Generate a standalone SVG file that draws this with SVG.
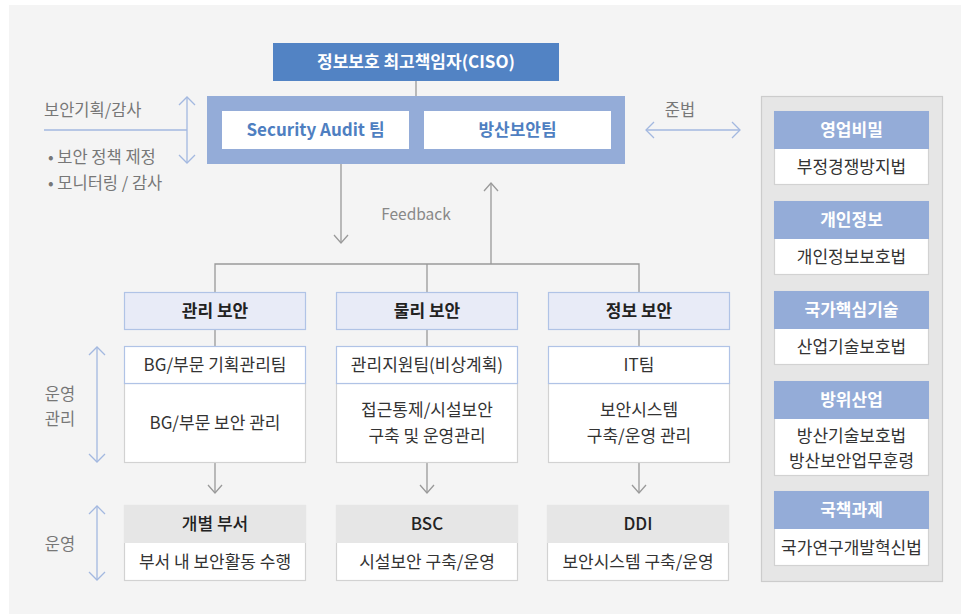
<svg xmlns="http://www.w3.org/2000/svg" width="970" height="614" viewBox="0 0 970 614">
<defs>
<style>
text{font-family:"Noto Sans CJK KR","Noto Sans",sans-serif;}
.bg{fill:#f4f4f4;}
.conn{stroke:#999;stroke-width:1.3;fill:none;}
.blue{stroke:#a3b8e0;stroke-width:1.3;fill:none;}
.cat{fill:#e8ebf7;stroke:#b0c3e6;stroke-width:1.2;}
.teamh{fill:#fff;stroke:#b0c3e6;stroke-width:1.2;}
.body{fill:#fff;stroke:#d2d2d2;stroke-width:1.2;}
.graysh{fill:#e6e6e6;}
.law-h{fill:#94acd8;}
.t-dark{fill:#333;font-size:17px;text-anchor:middle;}
.t-bold{fill:#222;font-size:17px;font-weight:bold;text-anchor:middle;}
.t-white{fill:#fff;font-size:17px;font-weight:bold;text-anchor:middle;}
.t-side{fill:#777;font-size:16.5px;}
</style>
</defs>
<rect class="bg" x="9" y="5" width="952" height="609"/>

<g id="connectors">
<line class="conn" x1="416" y1="81" x2="416" y2="96"/>
<line class="conn" x1="341" y1="164" x2="341" y2="243"/>
<polyline class="conn" points="334,235 341,243 348,235"/>
<line class="conn" x1="491" y1="264" x2="491" y2="183"/>
<polyline class="conn" points="484,191 491,183 498,191"/>
<polyline class="conn" points="215,292 215,264 639,264 639,292"/>
<line class="conn" x1="427" y1="264" x2="427" y2="292"/>
<line class="conn" x1="215" y1="330" x2="215" y2="346"/>
<line class="conn" x1="427" y1="330" x2="427" y2="346"/>
<line class="conn" x1="639" y1="330" x2="639" y2="346"/>
<line class="conn" x1="215" y1="463" x2="215" y2="493"/>
<polyline class="conn" points="208,485 215,493 222,485"/>
<line class="conn" x1="427" y1="463" x2="427" y2="493"/>
<polyline class="conn" points="420,485 427,493 434,485"/>
<line class="conn" x1="639" y1="463" x2="639" y2="493"/>
<polyline class="conn" points="632,485 639,493 646,485"/>
<!-- side arrows -->
<line class="blue" x1="44" y1="130" x2="187" y2="130"/>
<line class="blue" x1="187" y1="97" x2="187" y2="163"/>
<polyline class="blue" points="179,105 187,97 195,105"/>
<polyline class="blue" points="179,155 187,163 195,155"/>
<line class="blue" x1="646" y1="130" x2="740" y2="130"/>
<polyline class="blue" points="654,122 646,130 654,138"/>
<polyline class="blue" points="732,122 740,130 732,138"/>
<line class="blue" x1="97" y1="347" x2="97" y2="462"/>
<polyline class="blue" points="89,355 97,347 105,355"/>
<polyline class="blue" points="89,454 97,462 105,454"/>
<line class="blue" x1="97" y1="506" x2="97" y2="580"/>
<polyline class="blue" points="89,514 97,506 105,514"/>
<polyline class="blue" points="89,572 97,580 105,572"/>
</g>

<g id="side-labels">
<text class="t-side" x="44" y="116">보안기획/감사</text>
<text class="t-side" x="48" y="163">• 보안 정책 제정</text>
<text class="t-side" x="48" y="189">• 모니터링 / 감사</text>
<text class="t-side" x="680" y="116" text-anchor="middle">준법</text>
<text class="t-side" x="416" y="220" text-anchor="middle" style="fill:#888;font-size:15.5px">Feedback</text>
<text class="t-side" x="60" y="400" text-anchor="middle">운영</text>
<text class="t-side" x="60" y="425" text-anchor="middle">관리</text>
<text class="t-side" x="60" y="550" text-anchor="middle">운영</text>
</g>

<g id="ciso">
<rect x="273" y="43" width="286" height="38" fill="#5283c4"/>
<text class="t-white" x="416" y="68">정보보호 최고책임자(CISO)</text>
</g>

<g id="audit-group">
<rect x="207" y="96" width="418" height="68" fill="#94acd8"/>
<rect x="222" y="111" width="187" height="38" fill="#fff"/>
<text class="t-bold" x="315.5" y="136" style="fill:#4f7fc1">Security Audit 팀</text>
<rect x="424" y="111" width="187" height="38" fill="#fff"/>
<text class="t-bold" x="517.5" y="136" style="fill:#4f7fc1">방산보안팀</text>
</g>

<g id="cat-admin">
<rect class="cat" x="124.5" y="292.5" width="181" height="37"/>
<text class="t-bold" x="215" y="317">관리 보안</text>
</g>
<g id="cat-phys">
<rect class="cat" x="336.5" y="292.5" width="181" height="37"/>
<text class="t-bold" x="427" y="317">물리 보안</text>
</g>
<g id="cat-info">
<rect class="cat" x="548.5" y="292.5" width="181" height="37"/>
<text class="t-bold" x="639" y="317">정보 보안</text>
</g>

<g id="team-admin">
<rect class="body" x="124.5" y="383.5" width="181" height="79"/>
<rect class="teamh" x="124.5" y="346.5" width="181" height="37"/>
<text class="t-dark" x="215" y="371">BG/부문 기획관리팀</text>
<text class="t-dark" x="215" y="429">BG/부문 보안 관리</text>
</g>
<g id="team-phys">
<rect class="body" x="336.5" y="383.5" width="181" height="79"/>
<rect class="teamh" x="336.5" y="346.5" width="181" height="37"/>
<text class="t-dark" x="427" y="371">관리지원팀(비상계획)</text>
<text class="t-dark" x="427" y="416">접근통제/시설보안</text>
<text class="t-dark" x="427" y="442">구축 및 운영관리</text>
</g>
<g id="team-info">
<rect class="body" x="548.5" y="383.5" width="181" height="79"/>
<rect class="teamh" x="548.5" y="346.5" width="181" height="37"/>
<text class="t-dark" x="639" y="371">IT팀</text>
<text class="t-dark" x="639" y="416">보안시스템</text>
<text class="t-dark" x="639" y="442">구축/운영 관리</text>
</g>

<g id="op-dept">
<rect class="body" x="124.5" y="505.5" width="181" height="75"/>
<rect class="graysh" x="124" y="505" width="182" height="38"/>
<text class="t-dark" x="215" y="530" style="font-weight:500;fill:#222">개별 부서</text>
<text class="t-dark" x="215" y="568">부서 내 보안활동 수행</text>
</g>
<g id="op-bsc">
<rect class="body" x="336.5" y="505.5" width="181" height="75"/>
<rect class="graysh" x="336" y="505" width="182" height="38"/>
<text class="t-dark" x="427" y="530" style="font-weight:500;fill:#222">BSC</text>
<text class="t-dark" x="427" y="568">시설보안 구축/운영</text>
</g>
<g id="op-ddi">
<rect class="body" x="547.5" y="505.5" width="181" height="75"/>
<rect class="graysh" x="547" y="505" width="182" height="38"/>
<text class="t-dark" x="638" y="530" style="font-weight:500;fill:#222">DDI</text>
<text class="t-dark" x="638" y="568">보안시스템 구축/운영</text>
</g>

<g id="law-panel">
<rect x="761.5" y="96.5" width="181" height="485" fill="#e6e6e6" stroke="#cccccc" stroke-width="1.2"/>
</g>
<g id="law-trade">
<rect class="body" x="774.5" y="111.5" width="154" height="73"/>
<rect class="law-h" x="774" y="111" width="155" height="38"/>
<text class="t-white" x="851.5" y="136">영업비밀</text>
<text class="t-dark" x="851.5" y="173">부정경쟁방지법</text>
</g>
<g id="law-privacy">
<rect class="body" x="774.5" y="201.5" width="154" height="73"/>
<rect class="law-h" x="774" y="201" width="155" height="38"/>
<text class="t-white" x="851.5" y="226">개인정보</text>
<text class="t-dark" x="851.5" y="263">개인정보보호법</text>
</g>
<g id="law-tech">
<rect class="body" x="774.5" y="291.5" width="154" height="73"/>
<rect class="law-h" x="774" y="291" width="155" height="38"/>
<text class="t-white" x="851.5" y="316">국가핵심기술</text>
<text class="t-dark" x="851.5" y="353">산업기술보호법</text>
</g>
<g id="law-defense">
<rect class="body" x="774.5" y="381.5" width="154" height="94"/>
<rect class="law-h" x="774" y="381" width="155" height="38"/>
<text class="t-white" x="851.5" y="406">방위산업</text>
<text class="t-dark" x="851.5" y="442">방산기술보호법</text>
<text class="t-dark" x="851.5" y="467">방산보안업무훈령</text>
</g>
<g id="law-national">
<rect class="body" x="774.5" y="491.5" width="154" height="74"/>
<rect class="law-h" x="774" y="491" width="155" height="38"/>
<text class="t-white" x="851.5" y="516">국책과제</text>
<text class="t-dark" x="851.5" y="554">국가연구개발혁신법</text>
</g>
</svg>
